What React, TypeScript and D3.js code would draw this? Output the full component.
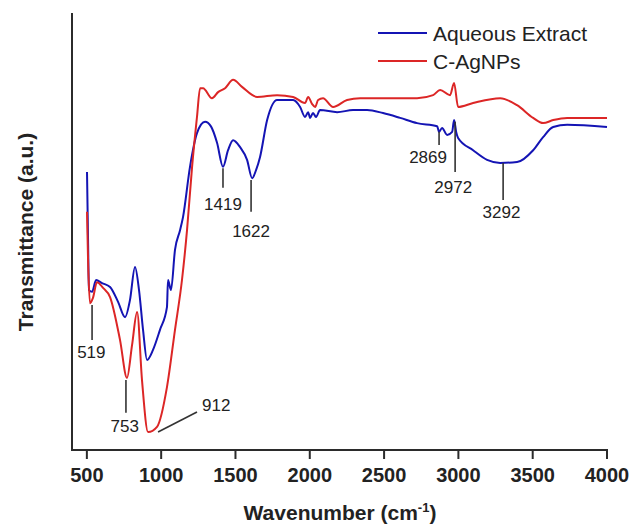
import React from 'react';
import * as d3 from 'd3';

// wavenumber (cm-1) / transmittance (a.u.)
const aqueousW = [501, 508, 514, 535, 562, 602, 656, 710, 757, 790, 824, 851, 878, 905, 945, 992, 1039, 1046, 1066, 1093, 1127, 1147, 1194, 1241, 1295, 1336, 1376, 1416, 1450, 1484, 1531, 1578, 1612, 1639, 1665, 1713, 1780, 1888, 1935, 1968, 1989, 2002, 2022, 2042, 2069, 2184, 2291, 2386, 2493, 2608, 2722, 2857, 2870, 2890, 2924, 2958, 2971, 2985, 2998, 3099, 3193, 3281, 3395, 3503, 3570, 3638, 3732, 4000];
const aqueousT = [63.6, 48.1, 36.6, 36.2, 38.9, 38.2, 37.3, 33.9, 30.4, 34.3, 41.9, 36.6, 27.5, 20.6, 22.9, 27.5, 32.7, 38.9, 36.6, 45.8, 50.3, 53.3, 64.8, 72.5, 75.1, 74.0, 70.3, 64.8, 68.6, 70.9, 69.3, 66.4, 62.2, 64.1, 67.0, 75.5, 80.1, 80.1, 78.5, 76.2, 77.3, 76.0, 77.1, 76.2, 77.8, 77.3, 77.8, 77.8, 77.1, 76.0, 74.8, 74.1, 72.8, 73.7, 72.1, 72.8, 75.5, 72.8, 71.4, 68.6, 66.4, 65.7, 65.9, 68.6, 71.6, 73.9, 74.4, 73.9];

const agnpW = [501, 508, 521, 541, 568, 609, 656, 723, 770, 804, 838, 871, 912, 972, 1039, 1093, 1140, 1174, 1208, 1241, 1262, 1282, 1342, 1383, 1430, 1484, 1544, 1645, 1780, 1888, 1968, 1989, 2015, 2036, 2056, 2089, 2157, 2251, 2339, 2493, 2722, 2830, 2877, 2944, 2971, 2998, 3099, 3281, 3395, 3503, 3570, 3638, 3732, 4000];
const agnpT = [54.5, 43.5, 33.6, 34.8, 38.4, 37.1, 35.0, 25.2, 16.5, 24.0, 31.6, 16.0, 4.1, 5.3, 14.4, 27.5, 38.9, 50.3, 64.8, 76.2, 82.8, 82.8, 80.5, 81.9, 82.8, 84.7, 83.1, 80.8, 81.2, 80.8, 79.4, 80.8, 79.2, 78.5, 80.1, 80.5, 78.5, 80.1, 80.5, 80.5, 80.5, 81.2, 82.4, 81.2, 84.0, 78.5, 79.4, 80.5, 78.9, 76.0, 74.8, 75.5, 76.0, 76.0];

const xTicks = [500, 1000, 1500, 2000, 2500, 3000, 3500, 4000];

// peak marks: label, line x, line from/to T, label x, label T
const peakLabels = ['519', '753', '1419', '1622', '2869', '2972', '3292'];
const peakX = [535, 763, 1416, 1605, 2870, 2978, 3301];
const peakTop = [33.2, 16.0, 64.5, 61.8, 72.8, 75.1, 65.7];
const peakBottom = [25.2, 8.5, 60.0, 54.5, 69.8, 63.6, 57.2];
const peakTextX = [530, 755, 1416, 1605, 2796, 2965, 3290];
const peakTextT = [21.1, 4.1, 54.9, 48.7, 65.7, 58.8, 53.1];

const series = [
  { name: 'Aqueous Extract', w: aqueousW, t: aqueousT, color: '#1414b4' },
  { name: 'C-AgNPs', w: agnpW, t: agnpT, color: '#dc2626' },
];

export default function App() {
  const width = 633;
  const height = 527;
  const margin = { top: 13, left: 72, bottom: 77, right: 26 };
  const iheight = height - margin.top - margin.bottom;

  const x = d3.scaleLinear().domain([400, 4000]).range([margin.left, width - margin.right]);
  const y = d3.scaleLinear().domain([0, 100]).range([margin.top + iheight, margin.top]);

  const line = d3.line<[number, number]>()
    .x(d => x(d[0]))
    .y(d => y(d[1]))
    .curve(d3.curveMonotoneX);

  const axisColor = '#2b2b2b';
  const font = 'Liberation Sans, Arial, sans-serif';
  const baseY = y(0);

  return (
    <svg width={width} height={height} style={{ position: 'absolute', left: 0, top: 0, background: '#fff' }}>
      {series.map(s => (
        <path key={s.name}
          d={line(s.w.map((w, i) => [w, s.t[i]] as [number, number])) || ''}
          fill="none" stroke={s.color} strokeWidth={2} strokeLinejoin="round" />
      ))}

      {/* axes */}
      <line x1={x(400)} x2={x(400)} y1={margin.top} y2={baseY} stroke={axisColor} strokeWidth={2} />
      <line x1={x(400) - 1} x2={x(4000) + 1} y1={baseY} y2={baseY} stroke={axisColor} strokeWidth={2} />
      {xTicks.map(t => (
        <g key={t}>
          <line x1={x(t)} x2={x(t)} y1={baseY} y2={baseY + 9} stroke={axisColor} strokeWidth={2} />
          <text x={x(t)} y={baseY + 32} textAnchor="middle" fontFamily={font} fontWeight="bold" fontSize={20} fill="#222">{t}</text>
        </g>
      ))}
      <text x={340} y={520} textAnchor="middle" fontFamily={font} fontWeight="bold" fontSize={21} fill="#222">
        Wavenumber (cm<tspan dy={-8} fontSize={13}>-1</tspan><tspan dy={8}>)</tspan>
      </text>
      <text transform="translate(33,232) rotate(-90)" textAnchor="middle" fontFamily={font} fontWeight="bold" fontSize={21} fill="#222">
        Transmittance (a.u.)
      </text>

      {/* peak annotations */}
      {peakLabels.map((p, i) => (
        <g key={p}>
          <line x1={x(peakX[i])} x2={x(peakX[i])} y1={y(peakTop[i])} y2={y(peakBottom[i])} stroke="#333" strokeWidth={1.6} />
          <text x={x(peakTextX[i])} y={y(peakTextT[i])} textAnchor="middle" fontFamily={font} fontSize={17} fill="#222">{p}</text>
        </g>
      ))}
      <line x1={x(979)} x2={x(1241)} y1={y(4.1)} y2={y(8.7)} stroke="#333" strokeWidth={1.6} />
      <text x={x(1275)} y={y(8.9)} fontFamily={font} fontSize={17} fill="#222">912</text>

      {/* legend */}
      {series.map((s, i) => (
        <g key={s.name} transform={`translate(378, ${33 + i * 28})`}>
          <line x1={0} x2={49} y1={0} y2={0} stroke={s.color} strokeWidth={2} />
          <text x={55} y={8} fontFamily={font} fontSize={21} fill="#222">{s.name}</text>
        </g>
      ))}
    </svg>
  );
}
